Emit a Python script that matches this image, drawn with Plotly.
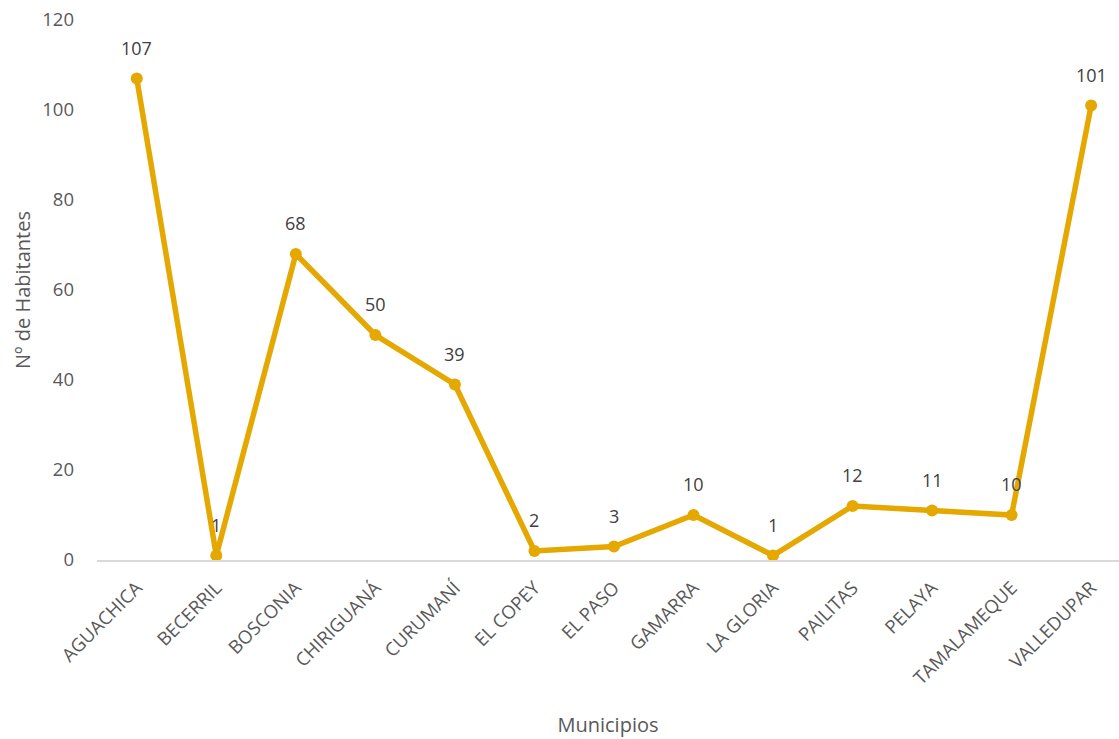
import plotly.graph_objects as go

municipios = ["AGUACHICA", "BECERRIL", "BOSCONIA", "CHIRIGUANÁ", "CURUMANÍ", "EL COPEY",
              "EL PASO", "GAMARRA", "LA GLORIA", "PAILITAS", "PELAYA", "TAMALAMEQUE",
              "VALLEDUPAR"]
habitantes = [107, 1, 68, 50, 39, 2, 3, 10, 1, 12, 11, 10, 101]
y_ticks = [0, 20, 40, 60, 80, 100, 120]

line_color = "#E4A800"
text_color = "#595959"
font_family = "Open Sans, Lato, sans-serif"

fig = go.Figure()
fig.add_trace(go.Scatter(
    x=list(range(len(municipios))),
    y=habitantes,
    mode="lines+markers",
    line=dict(color=line_color, width=5.5),
    marker=dict(color=line_color, size=12),
    hoverinfo="skip",
    showlegend=False,
))

# value labels above each point
for i, v in enumerate(habitantes):
    fig.add_annotation(x=i, y=v, text=str(v), showarrow=False, yshift=31,
                       font=dict(size=18, color="#404040", family=font_family))

fig.update_layout(
    width=1119, height=739,
    margin=dict(l=97, r=0, t=20, b=179),
    plot_bgcolor="white", paper_bgcolor="white",
    font=dict(family=font_family, color=text_color),
    xaxis=dict(
        tickmode="array",
        tickvals=list(range(len(municipios))),
        ticktext=municipios,
        tickangle=-45,
        tickfont=dict(size=18.5, color=text_color),
        range=[-0.5, 12.35],
        showgrid=False,
        showline=True, linecolor="#D9D9D9", linewidth=1.5,
        zeroline=False,
        ticks="",
        ticklabelstandoff=8,
        title=dict(text="Municipios", font=dict(size=20, color=text_color), standoff=30),
    ),
    yaxis=dict(
        range=[0, 120],
        tickvals=y_ticks,
        tickfont=dict(size=18.5, color=text_color),
        showgrid=False,
        zeroline=False,
        showline=False,
        ticks="",
        ticklabelstandoff=22,
        title=dict(text="Nº de Habitantes", font=dict(size=20, color=text_color), standoff=6),
    ),
)

fig.write_html("out.html")
